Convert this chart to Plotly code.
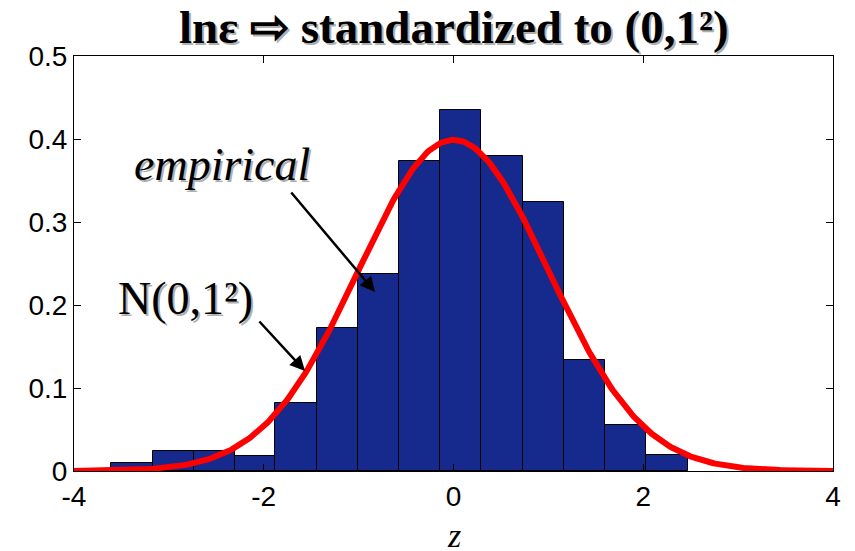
import numpy as np
import plotly.graph_objects as go

# Histogram of standardized ln(epsilon): bin edges and normalized densities
bin_edges = [-3.61, -3.17, -2.74, -2.30, -1.88, -1.44, -1.01, -0.57,
             -0.14, 0.29, 0.735, 1.16, 1.60, 2.03, 2.47]
density = [0.010, 0.0245, 0.0245, 0.018, 0.0815, 0.172, 0.237, 0.374,
           0.435, 0.380, 0.324, 0.134, 0.056, 0.019]

# Reference normal N(mu, sigma^2)
mu, sigma = 0.0, 1.0
z_grid = np.linspace(-4, 4, 401)
pdf = np.exp(-0.5 * ((z_grid - mu) / sigma) ** 2) / (sigma * np.sqrt(2 * np.pi))

x_ticks = [-4, -2, 0, 2, 4]
y_ticks = [0, 0.1, 0.2, 0.3, 0.4, 0.5]

edges = np.array(bin_edges)
centers = (edges[:-1] + edges[1:]) / 2
widths = np.diff(edges)

fig = go.Figure()
fig.add_trace(go.Bar(
    x=centers, y=density, width=widths,
    marker=dict(color="#152A8C", line=dict(color="black", width=1)),
    showlegend=False,
))
fig.add_trace(go.Scatter(
    x=z_grid, y=pdf, mode="lines",
    line=dict(color="#FF0000", width=6),
    showlegend=False,
))

serif = "Liberation Serif, Times New Roman, serif"
sans = "Liberation Sans, Arial, sans-serif"

annotations = []


def shadowed(text, x, y, size, xref, yref, bold=False, italic=False):
    inner = text
    if bold:
        inner = "<b>" + inner + "</b>"
    if italic:
        inner = "<i>" + inner + "</i>"
    for color, dx, dy in [("rgba(140,140,140,0.7)", 2, -2), ("black", 0, 0)]:
        annotations.append(dict(
            text=inner, x=x, y=y, xref=xref, yref=yref,
            showarrow=False, xanchor="center", yanchor="middle",
            xshift=dx, yshift=dy,
            font=dict(family=serif, size=size, color=color),
        ))


# Title with drop shadow
shadowed("ln\u03b5 \u21e8 standardized to (0,1\u00b2)", 0.5, 1.07,
         47, "paper", "paper", bold=True)

# Labels on the plot
shadowed("empirical", -2.44, 0.369, 46, "x", "y", italic=True)
shadowed("N(0,1\u00b2)", -2.82, 0.208, 46, "x", "y")


# Helpers to place arrow ends in axis units
def zx(px):
    return (px - 74) / 94.875 - 4


def zy(py):
    return (471 - py) / 830


annotations.append(dict(
    x=zx(375), y=zy(292), ax=zx(290), ay=zy(191),
    xref="x", yref="y", axref="x", ayref="y",
    text="", showarrow=True, arrowhead=2, arrowsize=1.2, arrowwidth=2.5,
    arrowcolor="black",
))
annotations.append(dict(
    x=zx(305), y=zy(371), ax=zx(258), ay=zy(320),
    xref="x", yref="y", axref="x", ayref="y",
    text="", showarrow=True, arrowhead=2, arrowsize=1.2, arrowwidth=2.5,
    arrowcolor="black",
))

# x-axis label
annotations.append(dict(
    text="<i>z</i>", x=0.5, y=-0.155, xref="paper", yref="paper",
    showarrow=False, xanchor="center", yanchor="middle",
    font=dict(family=serif, size=34, color="black"),
))

fig.update_layout(
    width=855, height=551,
    margin=dict(l=74, r=22, t=56, b=80),
    paper_bgcolor="white", plot_bgcolor="white",
    bargap=0,
    annotations=annotations,
    xaxis=dict(
        range=[-4, 4], tickvals=x_ticks, ticktext=[str(v) for v in x_ticks],
        ticks="inside", ticklen=7, tickcolor="black", showgrid=False,
        zeroline=False, showline=True, linecolor="black", linewidth=1,
        mirror="allticks", tickfont=dict(family=sans, size=28, color="black"),
    ),
    yaxis=dict(
        range=[0, 0.5], tickvals=y_ticks,
        ticktext=["0", "0.1", "0.2", "0.3", "0.4", "0.5"],
        ticks="inside", ticklen=7, tickcolor="black", showgrid=False,
        zeroline=False, showline=True, linecolor="black", linewidth=1,
        mirror="allticks", tickfont=dict(family=sans, size=28, color="black"),
    ),
)

fig.write_html("out.html")
